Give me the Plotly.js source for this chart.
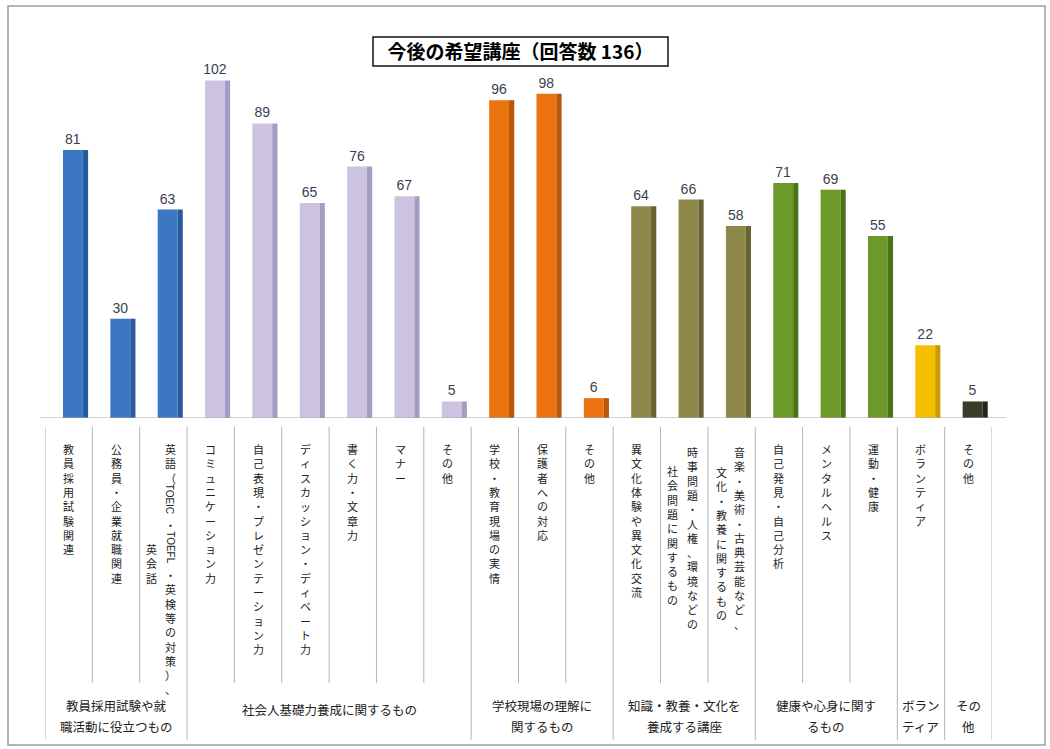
<!DOCTYPE html>
<html>
<head>
<meta charset="utf-8">
<script src="https://cdn.plot.ly/plotly-3.0.1.min.js"></script>
<style>
  html, body { margin: 0; padding: 0; background: #ffffff; }
  #chart { width: 1050px; height: 749px; }
</style>
</head>
<body>
<div id="chart"></div>
<script>
// ---------------- data ----------------
const chartTitle = "今後の希望講座（回答数 136）";

// "|" separates the right (first) and left (second) vertical column of a label
const categories = [
  "教員採用試験関連",
  "公務員・企業就職関連",
  "英語（TOEIC・TOEFL・英検等の対策）、|英会話",
  "コミュニケーション力",
  "自己表現・プレゼンテーション力",
  "ディスカッション・ディベート力",
  "書く力・文章力",
  "マナー",
  "その他",
  "学校・教育現場の実情",
  "保護者への対応",
  "その他",
  "異文化体験や異文化交流",
  "時事問題・人権、環境などの|社会問題に関するもの",
  "音楽・美術・古典芸能など、|文化・教養に関するもの",
  "自己発見・自己分析",
  "メンタルヘルス",
  "運動・健康",
  "ボランティア",
  "その他"
];

const values = [81, 30, 63, 102, 89, 65, 76, 67, 5, 96, 98, 6, 64, 66, 58, 71, 69, 55, 22, 5];

// group of each category
const categoryGroup = [0, 0, 0, 1, 1, 1, 1, 1, 1, 2, 2, 2, 3, 3, 3, 4, 4, 4, 5, 6];

const groupLabels = [
  ["教員採用試験や就", "職活動に役立つもの"],
  ["社会人基礎力養成に関するもの"],
  ["学校現場の理解に", "関するもの"],
  ["知識・教養・文化を", "養成する講座"],
  ["健康や心身に関す", "るもの"],
  ["ボラン", "ティア"],
  ["その", "他"]
];

// ---------------- styles ----------------
const groupFront = ["#3b77c3", "#cbc3e0", "#ea720f", "#8e894b", "#6d992b", "#f6c000", "#3b3b29"];
const groupSide  = ["#285b9c", "#a79bc3", "#b9560a", "#676333", "#4b7317", "#c99b00", "#24241a"];

const PLOT_TOP = 54, PLOT_BOTTOM = 418, PLOT_L = 45, PLOT_R = 992;
const Y_MAX = 110;
const paperY = px => (PLOT_BOTTOM - px) / (PLOT_BOTTOM - PLOT_TOP);
const paperX = px => (px - PLOT_L) / (PLOT_R - PLOT_L);

const CJK = '"Noto Sans CJK JP", "Noto Sans", sans-serif';
const LAT = '"Liberation Sans", Arial, sans-serif';
const LABEL_FS = 11;

const idx = values.map((_, i) => i);

// ---------------- traces ----------------
const frontTrace = {
  type: "bar",
  x: idx,
  y: values,
  width: 0.42,
  offset: -0.12,
  marker: { color: categoryGroup.map(g => groupFront[g]), line: { width: 0 } },
  text: values.map(String),
  textposition: "outside",
  constraintext: "none",
  cliponaxis: false,
  textfont: { family: LAT, size: 14, color: "#39414f" },
  hoverinfo: "skip"
};
const sideTrace = {
  type: "bar",
  x: idx,
  y: values,
  width: 0.11,
  offset: 0.30,
  marker: { color: categoryGroup.map(g => groupSide[g]), line: { width: 0 } },
  hoverinfo: "skip"
};

// ---------------- vertical category labels ----------------
const canvas = document.createElement("canvas");
const ctx = canvas.getContext("2d");
function measure(text, fs, fam) { ctx.font = fs + "px " + fam; return ctx.measureText(text).width; }

const annotations = [];
function addColumn(i, text, xshift, startPx) {
  const parts = text.split(/([A-Za-z0-9]+)/).filter(s => s.length);
  let y = startPx;
  parts.forEach(seg => {
    if (/^[A-Za-z0-9]+$/.test(seg)) {
      const w = measure(seg, 10, LAT);
      annotations.push({
        x: i, xref: "x", xshift: xshift, y: paperY(y + w / 2 + 1), yref: "paper",
        text: seg, textangle: 90, showarrow: false, xanchor: "center", yanchor: "middle",
        font: { family: LAT, size: 10, color: "#222" }
      });
      y += w + 3;
    } else {
      const chars = Array.from(seg);
      annotations.push({
        x: i, xref: "x", xshift: xshift, y: paperY(y), yref: "paper",
        text: chars.join("<br>"), showarrow: false, xanchor: "center", yanchor: "top",
        borderpad: 0, font: { family: CJK, size: LABEL_FS, color: "#222" }
      });
      y += chars.length * LABEL_FS * 1.3;
    }
  });
}

const colPlacement = {
  2:  [[7, 440], [-12, 540]],
  13: [[8, 443], [-12, 462]],
  14: [[8, 443], [-10, 463]]
};
categories.forEach((c, i) => {
  const cols = c.split("|");
  if (cols.length === 1) {
    addColumn(i, cols[0], 0, 440);
  } else {
    cols.forEach((col, k) => addColumn(i, col, colPlacement[i][k][0], colPlacement[i][k][1]));
  }
});

// ---------------- group labels & table lines ----------------
const shapes = [];
const groupStart = {}, groupEnd = {};
categoryGroup.forEach((g, i) => {
  if (!(g in groupStart)) groupStart[g] = i;
  groupEnd[g] = i;
});
groupLabels.forEach((lines, g) => {
  const cx = (groupStart[g] + groupEnd[g]) / 2;
  const centers = lines.length === 1 ? [709] : [705, 726];
  lines.forEach((ln, k) => {
    annotations.push({
      x: cx, xref: "x", y: paperY(centers[k]), yref: "paper",
      text: ln, showarrow: false, xanchor: "center", yanchor: "middle",
      borderpad: 0, font: { family: CJK, size: 12.5, color: "#222" }
    });
  });
});

for (let k = 0; k <= values.length; k++) {
  const isGroupEdge = k === 0 || k === values.length || categoryGroup[k] !== categoryGroup[k - 1];
  shapes.push({
    type: "line", xref: "x", yref: "paper",
    x0: k - 0.5, x1: k - 0.5,
    y0: paperY(427), y1: paperY(isGroupEdge ? 740 : 683),
    line: { color: "#b3b3b3", width: 1 }
  });
}

// floor line
shapes.push({
  type: "line", xref: "paper", yref: "y",
  x0: paperX(40), x1: paperX(1006), y0: 0, y1: 0,
  line: { color: "#a6a6a6", width: 1.2 }
});

// title box
shapes.push({
  type: "rect", xref: "paper", yref: "paper",
  x0: paperX(373), x1: paperX(668), y0: paperY(66), y1: paperY(37),
  line: { color: "#111", width: 1.5 }, fillcolor: "rgba(0,0,0,0)"
});

// outer frame
shapes.push({
  type: "rect", xref: "paper", yref: "paper",
  x0: paperX(8), x1: paperX(1045), y0: paperY(745), y1: paperY(6),
  line: { color: "#9d9d9d", width: 1.5 }, fillcolor: "rgba(0,0,0,0)"
});

const layout = {
  width: 1050,
  height: 749,
  margin: { l: PLOT_L, r: 1050 - PLOT_R, t: PLOT_TOP, b: 749 - PLOT_BOTTOM, pad: 0 },
  paper_bgcolor: "#ffffff",
  plot_bgcolor: "rgba(0,0,0,0)",
  title: {
    text: "<b>" + chartTitle + "</b>",
    x: 520.5 / 1050, xref: "container", xanchor: "center",
    y: 1 - 52 / 749, yref: "container", yanchor: "middle",
    font: { family: CJK, size: 19, color: "#000" }
  },
  barmode: "overlay",
  showlegend: false,
  xaxis: { range: [-0.5, values.length - 0.5], visible: false, fixedrange: true },
  yaxis: { range: [0, Y_MAX], visible: false, fixedrange: true },
  annotations: annotations,
  shapes: shapes,
  hovermode: false
};

Plotly.newPlot("chart", [frontTrace, sideTrace], layout, { displayModeBar: false, staticPlot: true });
</script>
</body>
</html>
